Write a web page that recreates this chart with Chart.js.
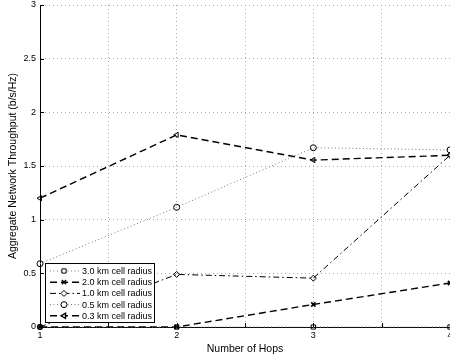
<!DOCTYPE html>
<html>
<head>
<meta charset="utf-8">
<script src="https://cdn.jsdelivr.net/npm/chart.js@4/dist/chart.umd.min.js"></script>
<style>
  body { margin: 0; background: #fff; }
  canvas { display: block; }
</style>
</head>
<body>
<canvas id="hopsChart" width="450" height="360"></canvas>
<script>
const hops = [1, 2, 3, 4];
const radius30 = [0, 0, 0, 0];
const radius20 = [0, 0, 0.21, 0.41];
const radius10 = [0, 0.49, 0.455, 1.6];
const radius05 = [0.59, 1.115, 1.67, 1.65];
const radius03 = [1.2, 1.79, 1.555, 1.6];
const seriesNames = [
  "3.0 km cell radius",
  "2.0 km cell radius",
  "1.0 km cell radius",
  "0.5 km cell radius",
  "0.3 km cell radius"
];
const yTicks = [0, 0.5, 1, 1.5, 2, 2.5, 3];

const fontFamily = "'Liberation Sans', Arial, sans-serif";

function toPoints(values) {
  return hops.map((h, i) => ({ x: h, y: values[i] }));
}

function makeSet(label, values, dash, width, style, rot, ptWidth) {
  return {
    label: label,
    data: toPoints(values),
    borderColor: "#000",
    borderWidth: width,
    borderDash: dash,
    fill: false,
    tension: 0,
    clip: false,
    pointStyle: style,
    pointRotation: rot,
    pointRadius: 3,
    pointBorderWidth: ptWidth,
    pointBorderColor: "#000",
    pointBackgroundColor: "rgba(0,0,0,0)"
  };
}

const datasets = [
  makeSet(seriesNames[0], radius30, [1, 2.5], 1, "rect", 0, 1),
  makeSet(seriesNames[1], radius20, [7, 4], 1.4, "crossRot", 0, 1.6),
  makeSet(seriesNames[2], radius10, [6, 3, 1.5, 3], 1, "rectRot", 0, 1),
  makeSet(seriesNames[3], radius05, [1, 2.5], 1, "circle", 0, 1),
  makeSet(seriesNames[4], radius03, [7, 4], 1.4, "triangle", -90, 1)
];
// dotted series look lighter
datasets[0].borderColor = "#777";
datasets[3].borderColor = "#777";

// short inward tick marks on the left and bottom axes
const innerTicks = {
  id: "innerTicks",
  afterDatasetsDraw(chart) {
    const ctx = chart.ctx;
    const x = chart.scales.x;
    const y = chart.scales.y;
    const area = chart.chartArea;
    ctx.save();
    ctx.strokeStyle = "#000";
    ctx.lineWidth = 1;
    ctx.beginPath();
    x.ticks.forEach((t) => {
      const px = Math.round(x.getPixelForValue(t.value)) + 0.5;
      ctx.moveTo(px, area.bottom);
      ctx.lineTo(px, area.bottom - 4);
    });
    y.ticks.forEach((t) => {
      const py = Math.round(y.getPixelForValue(t.value)) + 0.5;
      ctx.moveTo(area.left, py);
      ctx.lineTo(area.left + 4, py);
    });
    ctx.stroke();
    ctx.restore();
  }
};

// boxed legend with line samples, drawn from each dataset's own style
const boxLegend = {
  id: "boxLegend",
  afterDraw(chart) {
    const ctx = chart.ctx;
    const left = 45, top = 263, w = 109, h = 59;
    ctx.save();
    ctx.fillStyle = "#fff";
    ctx.fillRect(left, top, w, h);
    ctx.strokeStyle = "#000";
    ctx.lineWidth = 1;
    ctx.setLineDash([]);
    ctx.strokeRect(left + 0.5, top + 0.5, w, h);
    ctx.font = "9px " + fontFamily;
    ctx.textBaseline = "middle";
    chart.data.datasets.forEach((ds, i) => {
      const rowY = top + 8 + i * 11.2;
      ctx.strokeStyle = ds.borderColor;
      ctx.lineWidth = ds.borderWidth;
      ctx.setLineDash(ds.borderDash);
      ctx.beginPath();
      ctx.moveTo(left + 5, rowY);
      ctx.lineTo(left + 35, rowY);
      ctx.stroke();
      ctx.setLineDash([]);
      ctx.strokeStyle = "#000";
      ctx.fillStyle = "#fff";
      Chart.helpers.drawPoint(ctx, {
        pointStyle: ds.pointStyle,
        rotation: ds.pointRotation,
        radius: ds.pointRadius,
        borderWidth: ds.pointBorderWidth
      }, left + 19, rowY);
      ctx.fillStyle = "#000";
      ctx.fillText(ds.label, left + 37, rowY + 0.5);
    });
    ctx.restore();
  }
};

new Chart(document.getElementById("hopsChart"), {
  type: "line",
  data: { datasets: datasets },
  options: {
    responsive: false,
    animation: false,
    layout: {
      autoPadding: false,
      padding: { top: 5, right: 0, left: 0, bottom: 0 }
    },
    plugins: {
      legend: { display: false },
      tooltip: { enabled: false }
    },
    scales: {
      x: {
        type: "linear",
        min: 1,
        max: 4,
        afterFit(scale) {
          scale.height = 33;
          scale.paddingLeft = 0;
          scale.paddingRight = 0;
        },
        ticks: {
          stepSize: 0.5,
          color: "#000",
          padding: 3,
          maxRotation: 0,
          autoSkip: false,
          font: { family: fontFamily, size: 9 },
          callback: (v) => (Number.isInteger(v) ? String(v) : "")
        },
        grid: { color: "#aaa", lineWidth: 1, drawTicks: false },
        border: { color: "#000", width: 1, dash: [1, 3] },
        title: {
          display: true,
          text: "Number of Hops",
          color: "#000",
          font: { family: fontFamily, size: 10.5 },
          padding: { top: 0, bottom: 5 }
        }
      },
      y: {
        min: 0,
        max: 3,
        afterFit(scale) {
          scale.width = 40;
          scale.paddingTop = 0;
          scale.paddingBottom = 0;
        },
        afterBuildTicks(scale) {
          scale.ticks = yTicks.map((v) => ({ value: v }));
        },
        ticks: {
          color: "#000",
          padding: 4,
          font: { family: fontFamily, size: 9 },
          callback: (v) => String(v)
        },
        grid: { color: "#aaa", lineWidth: 1, drawTicks: false },
        border: { color: "#000", width: 1, dash: [1, 3] },
        title: {
          display: true,
          text: "Aggregate Network Throughput (b/s/Hz)",
          color: "#000",
          font: { family: fontFamily, size: 10.5 },
          padding: { top: 7, bottom: 0 }
        }
      }
    }
  },
  plugins: [innerTicks, boxLegend]
});
</script>
</body>
</html>
